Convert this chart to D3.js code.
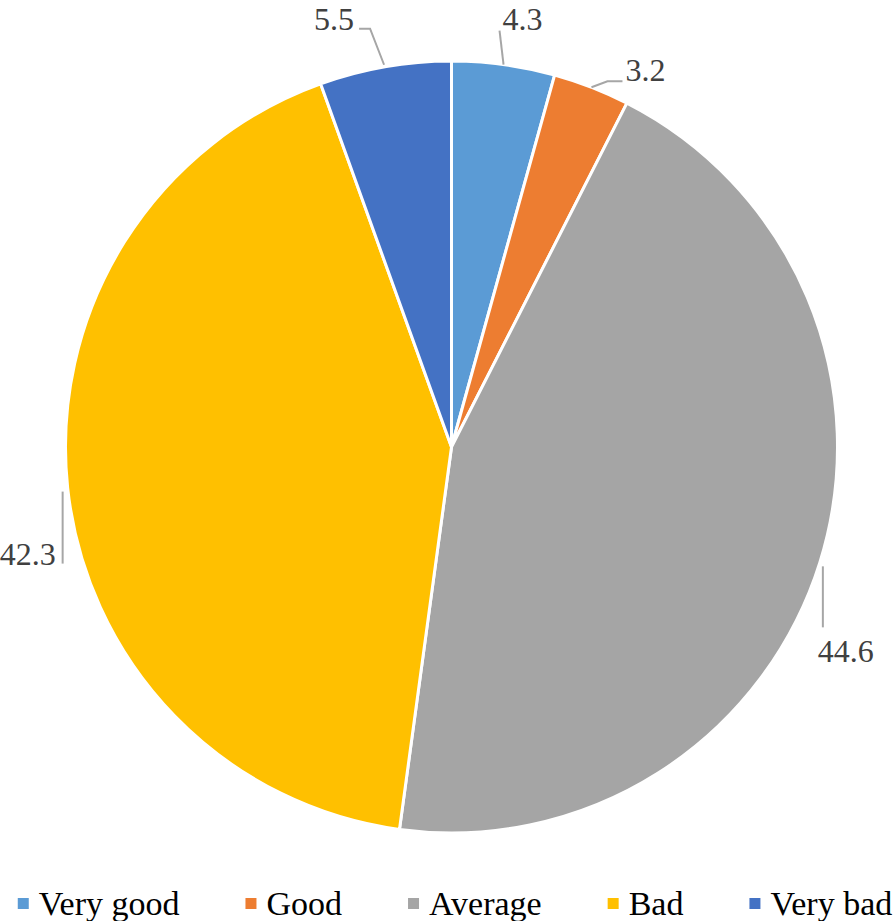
<!DOCTYPE html>
<html>
<head>
<meta charset="utf-8">
<script src="https://cdn.jsdelivr.net/npm/d3@7"></script>
<style>
  html, body { margin: 0; padding: 0; background: #ffffff; }
  svg { display: block; }
  svg text { font-family: "Liberation Serif", "Times New Roman", serif; }
</style>
</head>
<body>
<svg id="chart" width="894" height="921"></svg>
<script>
// ---- data ----
const categories = ["Very good", "Good", "Average", "Bad", "Very bad"];
const values = [4.3, 3.2, 44.6, 42.3, 5.5];
const valueLabels = ["4.3", "3.2", "44.6", "42.3", "5.5"];
const colors = ["#5B9BD5", "#ED7D31", "#A5A5A5", "#FFC000", "#4472C4"];

// ---- layout (label placement relative to each slice's outer mid point) ----
const labelLayout = [
  { dx: -1,  dy: -35, anchor: "start", leader: [[0, 0], [-4, -34]] },
  { dx: 34,  dy: -6,  anchor: "start", leader: [[0, 0], [16, -6], [31, -6]] },
  { dx: -2,  dy: 100, anchor: "start", leader: [[3, 4], [3, 65]] },
  { dx: -12, dy: 77,  anchor: "end",   leader: [[-5, 4], [-5, 76]] },
  { dx: -31, dy: -37, anchor: "end",   leader: [[-1, -2], [-15, -38], [-26, -38]] }
];

const W = 894, H = 921;
const cx = 451.5, cy = 447, R = 386;
const svg = d3.select("#chart");

const data = categories.map((c, i) => ({ cat: c, value: values[i], label: valueLabels[i], color: colors[i], i }));

const pie = d3.pie().sort(null).value(d => d.value).startAngle(0).endAngle(2 * Math.PI);
const arcs = pie(data);
const arc = d3.arc().innerRadius(0).outerRadius(R);
const edgeArc = d3.arc().innerRadius(R).outerRadius(R);

const g = svg.append("g").attr("transform", `translate(${cx},${cy})`);

g.selectAll("path.slice")
  .data(arcs)
  .enter().append("path")
  .attr("class", "slice")
  .attr("d", arc)
  .attr("fill", d => d.data.color)
  .attr("stroke", "#ffffff")
  .attr("stroke-width", 3)
  .attr("stroke-linejoin", "round");

// leader lines and labels
const lg = g.append("g");
arcs.forEach((a, i) => {
  const p = edgeArc.centroid(a);
  const L = labelLayout[i];
  const pts = L.leader.map(([x, y]) => [p[0] + x, p[1] + y]);
  lg.append("path")
    .attr("d", d3.line()(pts))
    .attr("fill", "none")
    .attr("stroke", "#A6A6A6")
    .attr("stroke-width", 2);
  lg.append("text")
    .attr("x", p[0] + L.dx)
    .attr("y", p[1] + L.dy)
    .attr("text-anchor", L.anchor)
    .style("font-size", "32px")
    .attr("fill", "#404040")
    .text(a.data.label);
});

// legend
const legend = svg.append("g");
const sq = 11, gapSqText = 10, gapItems = 66, baseY = 915, fs = 34;
const items = legend.selectAll("g.item").data(data).enter().append("g").attr("class", "item");
items.append("rect")
  .attr("width", sq).attr("height", sq)
  .attr("y", baseY - 17)
  .attr("fill", d => d.color);
items.append("text")
  .attr("y", baseY)
  .style("font-size", fs + "px")
  .attr("fill", "#000000")
  .text(d => d.cat);
let widths = [];
items.selectAll("text").each(function () { widths.push(this.getComputedTextLength()); });
const total = widths.reduce((s, w) => s + sq + gapSqText + w, 0) + gapItems * (widths.length - 1);
let x0 = 455 - total / 2;
items.each(function (d, i) {
  d3.select(this).attr("transform", `translate(${x0},0)`);
  d3.select(this).select("text").attr("x", sq + gapSqText);
  x0 += sq + gapSqText + widths[i] + gapItems;
});
</script>
</body>
</html>
